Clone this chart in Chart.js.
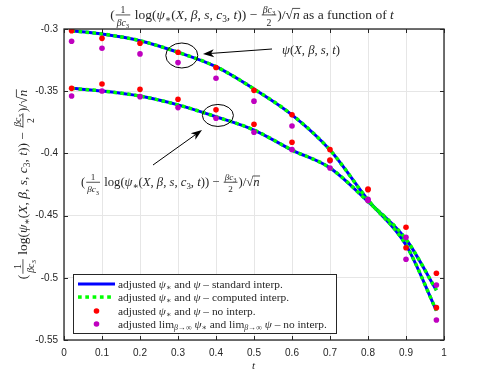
<!DOCTYPE html>
<html>
<head>
<meta charset="utf-8">
<script src="https://cdn.jsdelivr.net/npm/chart.js@4/dist/chart.umd.min.js"></script>
<style>
  html, body { margin: 0; padding: 0; background: #fff; }
  canvas { display: block; }
</style>
</head>
<body>
<canvas id="grafica" width="491" height="382"></canvas>
<script>
// valores
const tLinea = [0.02, 0.1, 0.2, 0.3, 0.4, 0.5, 0.6, 0.7, 0.8, 0.9, 0.98];
const psiLinea = [-0.3015, -0.304, -0.3094, -0.3187, -0.3303, -0.3482, -0.369, -0.3973, -0.4375, -0.4736, -0.5264];
const psiEstrellaLinea = [-0.3477, -0.3498, -0.3539, -0.361, -0.3705, -0.3812, -0.3973, -0.4117, -0.4388, -0.469, -0.51];

const tPuntos = [0.02, 0.1, 0.2, 0.3, 0.4, 0.5, 0.6, 0.7, 0.8, 0.9, 0.98];
const psiSinInterp = [-0.3014, -0.3075, -0.3115, -0.3187, -0.331, -0.3493, -0.369, -0.397, -0.4286, -0.4758, -0.524];
const psiEstrellaSinInterp = [-0.3477, -0.3442, -0.3485, -0.3565, -0.365, -0.3766, -0.391, -0.4053, -0.4292, -0.4594, -0.4964];
const psiLimite = [-0.3099, -0.3155, -0.32, -0.327, -0.3396, -0.358, -0.378, -0.406, -0.4369, -0.4851, -0.5339];
const psiEstrellaLimite = [-0.3539, -0.3498, -0.3544, -0.3632, -0.3718, -0.383, -0.397, -0.4117, -0.4378, -0.4675, -0.5058];

const xTicks = [0, 0.1, 0.2, 0.3, 0.4, 0.5, 0.6, 0.7, 0.8, 0.9, 1];
const yTicks = [-0.55, -0.5, -0.45, -0.4, -0.35, -0.3];

const AZUL = "#0000ff";
const VERDE = "#00ff00";
const ROJO = "#ff0000";
const MAGENTA = "#bf00bf";
const EJE = "#262626";
const SERIF = "'Liberation Serif', 'DejaVu Serif', serif";

const pares = (xs, ys) => xs.map((x, i) => ({ x, y: ys[i] }));

// --- pequeño dibujante de fórmulas ---
function fuente(ctx, size, italic) {
  ctx.font = (italic ? "italic " : "") + size + "px " + SERIF;
}
function formula(ctx, items, x, y, size, dibujar) {
  let w = 0;
  for (const it of items) {
    if (typeof it === "string" || it.i !== undefined) {
      const txt = typeof it === "string" ? it : it.i;
      fuente(ctx, size, typeof it !== "string");
      if (dibujar) ctx.fillText(txt, x + w, y);
      w += ctx.measureText(txt).width;
    } else if (it.sub) {
      w += formula(ctx, it.sub, x + w, y + size * 0.25, size * 0.7, dibujar);
    } else if (it.frac) {
      const s = size * 0.72;
      const nw = formula(ctx, it.frac[0], 0, 0, s, false);
      const dw = formula(ctx, it.frac[1], 0, 0, s, false);
      const fw = Math.max(nw, dw) + 2;
      if (dibujar) {
        formula(ctx, it.frac[0], x + w + 1 + (fw - nw) / 2, y - size * 0.48, s, true);
        formula(ctx, it.frac[1], x + w + 1 + (fw - dw) / 2, y + size * 0.5, s, true);
        ctx.fillRect(x + w + 1, y - size * 0.33, fw, 0.8);
      }
      w += fw + 2;
    } else if (it.sqrt) {
      fuente(ctx, size, false);
      const rw = ctx.measureText("√").width;
      if (dibujar) ctx.fillText("√", x + w, y);
      const iw = formula(ctx, it.sqrt, x + w + rw, y, size, dibujar);
      if (dibujar) ctx.fillRect(x + w + rw - 0.5, y - size * 0.82, iw + 1, 0.8);
      w += rw + iw;
    }
  }
  return w;
}

const c3 = [{ i: "c" }, { sub: ["3"] }];
const betaC3 = [{ i: "β" }, ...c3];
const etiquetaPsiEstrella = [
  "(", { frac: [["1"], betaC3] }, " log(", { i: "ψ" }, { sub: ["∗"] },
  "(", { i: "X" }, ", ", { i: "β" }, ", ", { i: "s" }, ", ", ...c3, ", ", { i: "t" },
  ")) − ", { frac: [betaC3, ["2"]] }, ")/", { sqrt: [{ i: "n" }] },
];
const titulo = [...etiquetaPsiEstrella, " as a function of ", { i: "t" }];
const etiquetaPsi = [{ i: "ψ" }, "(", { i: "X" }, ", ", { i: "β" }, ", ", { i: "s" }, ", ", { i: "t" }, ")"];
const psiE = [{ i: "ψ" }, { sub: ["∗"] }];
const lim = ["lim", { sub: [{ i: "β" }, "→∞"] }, " "];
const leyenda = [
  { tipo: "linea", texto: ["adjusted ", ...psiE, " and ", { i: "ψ" }, " – standard interp."] },
  { tipo: "puntos", texto: ["adjusted ", ...psiE, " and ", { i: "ψ" }, " – computed interp."] },
  { tipo: "rojo", texto: ["adjusted ", ...psiE, " and ", { i: "ψ" }, " – no interp."] },
  { tipo: "magenta", texto: ["adjusted ", ...lim, ...psiE, " and ", ...lim, { i: "ψ" }, " – no interp."] },
];

function flecha(ctx, x1, y1, x2, y2) {
  const a = Math.atan2(y2 - y1, x2 - x1);
  const L = 11, W = 4;
  const bx = x2 - L * Math.cos(a), by = y2 - L * Math.sin(a);
  ctx.beginPath();
  ctx.moveTo(x1, y1);
  ctx.lineTo(bx + 3 * Math.cos(a), by + 3 * Math.sin(a));
  ctx.stroke();
  ctx.beginPath();
  ctx.moveTo(x2, y2);
  ctx.lineTo(bx - W * Math.sin(a), by + W * Math.cos(a));
  ctx.lineTo(bx + 3 * Math.cos(a), by + 3 * Math.sin(a));
  ctx.lineTo(bx + W * Math.sin(a), by - W * Math.cos(a));
  ctx.closePath();
  ctx.fill();
}

const decoracion = {
  id: "decoracion",
  afterDraw(chart) {
    const { ctx, chartArea: a, scales } = chart;
    ctx.save();
    // marcas hacia dentro
    ctx.strokeStyle = EJE;
    ctx.lineWidth = 1;
    ctx.beginPath();
    for (const v of xTicks) {
      const px = Math.round(scales.x.getPixelForValue(v)) + 0.5;
      ctx.moveTo(px, a.bottom); ctx.lineTo(px, a.bottom - 4);
      ctx.moveTo(px, a.top); ctx.lineTo(px, a.top + 4);
    }
    for (const v of yTicks) {
      const py = Math.round(scales.y.getPixelForValue(v)) + 0.5;
      ctx.moveTo(a.left, py); ctx.lineTo(a.left + 4, py);
      ctx.moveTo(a.right, py); ctx.lineTo(a.right - 4, py);
    }
    ctx.stroke();
    ctx.lineWidth = 1.3;
    ctx.strokeRect(a.left, a.top, a.right - a.left, a.bottom - a.top);

    ctx.fillStyle = EJE;
    ctx.textBaseline = "alphabetic";
    // título
    const tw = formula(ctx, titulo, 0, 0, 13.5, false);
    formula(ctx, titulo, 252 - tw / 2, 19, 13.5, true);
    // eje x
    formula(ctx, [{ i: "t" }], (a.left + a.right) / 2 - 2, 369, 11, true);
    // eje y
    const yw = formula(ctx, etiquetaPsiEstrella, 0, 0, 13.5, false);
    ctx.save();
    ctx.translate(27, (a.top + a.bottom) / 2);
    ctx.rotate(-Math.PI / 2);
    formula(ctx, etiquetaPsiEstrella, -yw / 2, 0, 13.5, true);
    ctx.restore();

    // anotaciones
    ctx.strokeStyle = "#000";
    ctx.fillStyle = "#000";
    ctx.lineWidth = 1;
    const s = (t, v) => [scales.x.getPixelForValue(t), scales.y.getPixelForValue(v)];
    let [ex, ey] = s(0.31, -0.3213);
    ctx.beginPath(); ctx.ellipse(ex, ey, 16, 12.5, 0, 0, 2 * Math.PI); ctx.stroke();
    flecha(ctx, 272, 49, 203, 54);
    [ex, ey] = s(0.405, -0.3695);
    ctx.beginPath(); ctx.ellipse(ex, ey, 15.5, 11, 0, 0, 2 * Math.PI); ctx.stroke();
    flecha(ctx, 153, 165, 202, 130);
    ctx.fillStyle = EJE;
    formula(ctx, etiquetaPsi, 282, 54, 12.7, true);
    formula(ctx, etiquetaPsiEstrella, 81, 186, 12.7, true);

    // leyenda
    const lx = 73, ly = 274, lw = 263, lh = 59;
    ctx.fillStyle = "#fff";
    ctx.fillRect(lx, ly, lw, lh);
    ctx.strokeStyle = EJE;
    ctx.lineWidth = 1;
    ctx.strokeRect(lx + 0.5, ly + 0.5, lw, lh);
    const filas = [284, 297, 311, 324];
    leyenda.forEach((e, i) => {
      const yy = filas[i];
      if (e.tipo === "linea") {
        ctx.fillStyle = AZUL;
        ctx.fillRect(78, yy - 1.5, 37, 3);
      } else if (e.tipo === "puntos") {
        ctx.fillStyle = VERDE;
        for (let k = 0; k < 5; k++) ctx.fillRect(78 + k * 7.3, yy - 1.7, 3.7, 3.5);
      } else {
        ctx.fillStyle = e.tipo === "rojo" ? ROJO : MAGENTA;
        ctx.beginPath(); ctx.arc(96.5, yy, 2.8, 0, 2 * Math.PI); ctx.fill();
      }
      ctx.fillStyle = EJE;
      formula(ctx, e.texto, 118, yy + 3.5, 11.4, true);
    });
    ctx.restore();
  },
};

new Chart(document.getElementById("grafica"), {
  type: "line",
  data: {
    datasets: [
      { data: pares(tPuntos, psiSinInterp), showLine: false, pointRadius: 2.8, pointBackgroundColor: ROJO, pointBorderWidth: 0, order: 0 },
      { data: pares(tPuntos, psiEstrellaSinInterp), showLine: false, pointRadius: 2.8, pointBackgroundColor: ROJO, pointBorderWidth: 0, order: 0 },
      { data: pares(tPuntos, psiLimite), showLine: false, pointRadius: 2.8, pointBackgroundColor: MAGENTA, pointBorderWidth: 0, order: 0 },
      { data: pares(tPuntos, psiEstrellaLimite), showLine: false, pointRadius: 2.8, pointBackgroundColor: MAGENTA, pointBorderWidth: 0, order: 0 },
      { data: pares(tLinea, psiLinea), borderColor: VERDE, borderWidth: 3.5, borderDash: [3.5, 3.5], borderCapStyle: "butt", pointRadius: 0, cubicInterpolationMode: "monotone", order: 1 },
      { data: pares(tLinea, psiEstrellaLinea), borderColor: VERDE, borderWidth: 3.5, borderDash: [3.5, 3.5], borderCapStyle: "butt", pointRadius: 0, cubicInterpolationMode: "monotone", order: 1 },
      { data: pares(tLinea, psiLinea), borderColor: AZUL, borderWidth: 3, pointRadius: 0, cubicInterpolationMode: "monotone", order: 2 },
      { data: pares(tLinea, psiEstrellaLinea), borderColor: AZUL, borderWidth: 3, pointRadius: 0, cubicInterpolationMode: "monotone", order: 2 },
    ],
  },
  options: {
    responsive: false,
    animation: false,
    layout: { padding: { left: 0, top: 29, right: 47, bottom: 0 } },
    scales: {
      x: {
        type: "linear", min: 0, max: 1,
        afterBuildTicks: (s) => { s.ticks = xTicks.map((v) => ({ value: v })); },
        afterFit: (s) => { s.height = 42; },
        ticks: {
          callback: (v) => String(Math.round(v * 10) / 10),
          font: { family: "'Liberation Sans', Arial, sans-serif", size: 10 },
          color: EJE, padding: 7, maxRotation: 0, autoSkip: false,
        },
        grid: { color: "#e6e6e6", drawTicks: false },
        border: { display: false },
      },
      y: {
        min: -0.55, max: -0.3,
        afterBuildTicks: (s) => { s.ticks = yTicks.map((v) => ({ value: v })); },
        afterFit: (s) => { s.width = 64; },
        ticks: {
          callback: (v) => String(Math.round(v * 100) / 100),
          font: { family: "'Liberation Sans', Arial, sans-serif", size: 10 },
          color: EJE, padding: 6,
        },
        grid: { color: "#e6e6e6", drawTicks: false },
        border: { display: false },
      },
    },
    plugins: { legend: { display: false }, tooltip: { enabled: false } },
  },
  plugins: [decoracion],
});
</script>
</body>
</html>
